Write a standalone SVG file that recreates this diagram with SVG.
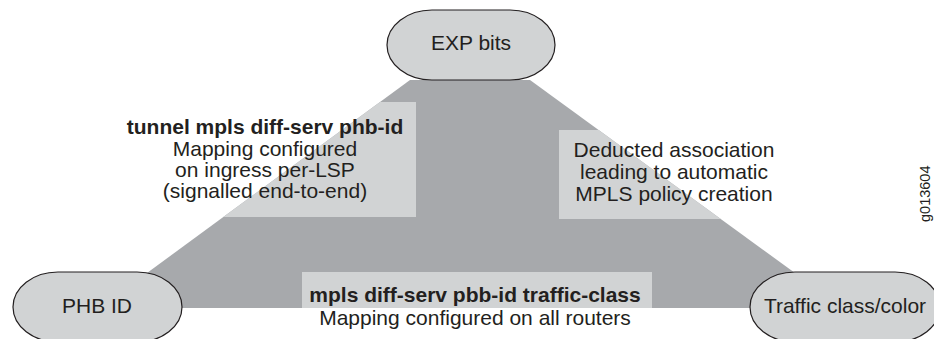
<svg xmlns="http://www.w3.org/2000/svg" width="934" height="339" viewBox="0 0 934 339">
<style>
.t{font-family:"Liberation Sans",Arial,sans-serif;font-size:21px;fill:#231f20;text-anchor:middle}
.b{font-weight:bold}
.node{fill:#d1d3d4;stroke:#231f20;stroke-width:1.2}
.dark{fill:#a7a9ac}
.light{fill:#d1d3d4}
</style>
<defs>
<clipPath id="tri"><polygon points="410,80 530,80 795,273 800,308 150,308 147,273"/></clipPath>
</defs>
<rect width="934" height="339" fill="#ffffff"/>
<g id="connectors">
<polygon class="dark" points="410,80 530,80 795,273 800,308 150,308 147,273"/>
<g clip-path="url(#tri)">
<rect class="light" x="150" y="102" width="266" height="115"/>
<rect class="light" x="559" y="130" width="240" height="89"/>
<rect class="light" x="302" y="272" width="350" height="36"/>
</g>
<text class="t b" x="265" y="134">tunnel mpls diff-serv phb-id</text>
<text class="t" x="265" y="155.5">Mapping configured</text>
<text class="t" x="265" y="177">on ingress per-LSP</text>
<text class="t" x="265" y="198">(signalled end-to-end)</text>
<text class="t" x="674" y="157">Deducted association</text>
<text class="t" x="674" y="179">leading to automatic</text>
<text class="t" x="674" y="201">MPLS policy creation</text>
<text class="t b" x="475" y="302">mpls diff-serv pbb-id traffic-class</text>
<text class="t" x="475" y="325">Mapping configured on all routers</text>
</g>
<g id="exp">
<rect class="node" x="387" y="10" width="168" height="70" rx="45" ry="35"/>
<text class="t" x="471" y="50">EXP bits</text>
</g>
<g id="phb">
<rect class="node" x="13" y="272" width="169" height="70" rx="45" ry="35"/>
<text class="t" x="97" y="313">PHB ID</text>
</g>
<g id="traffic">
<rect class="node" x="750" y="272" width="190" height="70" rx="45" ry="35"/>
<text class="t" x="845" y="313">Traffic class/color</text>
</g>
<text transform="translate(930,222) rotate(-90)" style="font-family:'Liberation Sans',Arial,sans-serif;font-size:14.5px;fill:#231f20">g013604</text>
</svg>
